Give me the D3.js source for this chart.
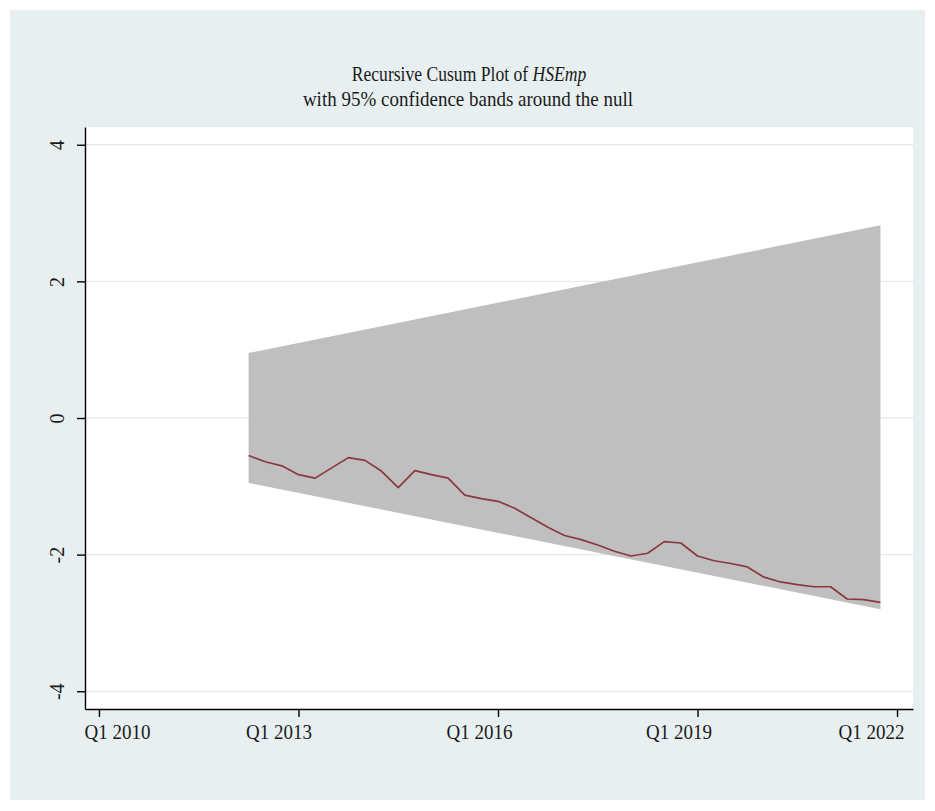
<!DOCTYPE html>
<html>
<head>
<meta charset="utf-8">
<script src="https://cdn.jsdelivr.net/npm/d3@7"></script>
<style>
  html, body { margin: 0; padding: 0; background: #ffffff; }
  svg { display: block; }
  text { font-family: "Liberation Serif", "Times New Roman", serif; fill: #1a1a1a; }
</style>
</head>
<body>
<svg id="chart" width="935" height="811"></svg>
<script>
// Recursive CUSUM of HSEmp, quarterly
const cusumStart = "2012q2";
const cusumValues = [
  -0.55, -0.64, -0.70, -0.83, -0.88, -0.73, -0.58, -0.62, -0.78, -1.02,
  -0.77, -0.83, -0.88, -1.13, -1.18, -1.22, -1.32, -1.46, -1.60, -1.72,
  -1.78, -1.86, -1.95, -2.02, -1.98, -1.81, -1.83, -2.02, -2.09, -2.13,
  -2.18, -2.33, -2.40, -2.44, -2.47, -2.47, -2.65, -2.66, -2.70
];

// 95% confidence band around the null (straight lines between endpoints)
const bandQuarters = ["2012q2", "2021q4"];
const bandUpper = [0.95, 2.82];
const bandLower = [-0.95, -2.80];

// Axis ticks
const xTickQuarters = ["2010q1", "2013q1", "2016q1", "2019q1", "2022q1"];
const xTickLabels = ["Q1 2010", "Q1 2013", "Q1 2016", "Q1 2019", "Q1 2022"];
const yTicks = [-4, -2, 0, 2, 4];

// quarter string -> running quarter index counted from 2010q1
function qIndex(s) {
  const [yr, q] = s.split("q").map(Number);
  return (yr - 2010) * 4 + (q - 1);
}

const svg = d3.select("#chart");

// graph region
svg.append("rect")
  .attr("x", 10).attr("y", 10)
  .attr("width", 915).attr("height", 790)
  .attr("fill", "#e8eff1");

const plot = { left: 85, right: 913, top: 127, bottom: 709 };

// plot region
svg.append("rect")
  .attr("x", plot.left).attr("y", plot.top)
  .attr("width", plot.right - plot.left).attr("height", plot.bottom - plot.top)
  .attr("fill", "#ffffff");

const x = d3.scaleLinear()
  .domain([-0.84, 48.96])
  .range([plot.left, plot.right]);

const y = d3.scaleLinear()
  .domain([-4.26, 4.26])
  .range([plot.bottom, plot.top]);

// horizontal grid lines
svg.append("g")
  .selectAll("line")
  .data(yTicks)
  .join("line")
  .attr("x1", plot.left).attr("x2", plot.right)
  .attr("y1", d => y(d)).attr("y2", d => y(d))
  .attr("stroke", "#e4ecee")
  .attr("stroke-width", 1.3);

// confidence band
const bandData = bandQuarters.map((q, i) => ({ q: qIndex(q), lo: bandLower[i], hi: bandUpper[i] }));
svg.append("path")
  .datum(bandData)
  .attr("fill", "#bfbfbf")
  .attr("d", d3.area()
    .x(d => x(d.q))
    .y0(d => y(d.lo))
    .y1(d => y(d.hi)));

// CUSUM line
const q0 = qIndex(cusumStart);
const lineData = cusumValues.map((v, i) => ({ q: q0 + i, v }));
svg.append("path")
  .datum(lineData)
  .attr("fill", "none")
  .attr("stroke", "#8a3a3c")
  .attr("stroke-width", 1.7)
  .attr("stroke-linejoin", "round")
  .attr("d", d3.line()
    .x(d => x(d.q))
    .y(d => y(d.v)));

// x axis
const xAxis = d3.axisBottom(x)
  .tickValues(xTickQuarters.map(qIndex))
  .tickFormat((d, i) => xTickLabels[i])
  .tickSize(8)
  .tickSizeOuter(0)
  .tickPadding(8);

const gx = svg.append("g")
  .attr("transform", `translate(0,${plot.bottom})`)
  .call(xAxis);
gx.select(".domain").attr("stroke", "#000").attr("stroke-width", 1.4);
gx.selectAll(".tick line").attr("stroke", "#000").attr("stroke-width", 1.4);
// label placement: first label kept inside the left edge, others sit slightly left of their tick
const xLabelShift = [18, -20, -19, -19, -26];
gx.selectAll(".tick text")
  .attr("font-size", 20)
  .attr("font-family", "Liberation Serif, serif")
  .attr("fill", "#1a1a1a")
  .attr("dx", (d, i) => xLabelShift[i])
  .attr("textLength", 66)
  .attr("lengthAdjust", "spacingAndGlyphs");

// y axis
const yAxis = d3.axisLeft(y)
  .tickValues(yTicks)
  .tickFormat(d3.format("d"))
  .tickSize(8)
  .tickSizeOuter(0);

const gy = svg.append("g")
  .attr("transform", `translate(${plot.left},0)`)
  .call(yAxis);
gy.select(".domain").attr("stroke", "#000").attr("stroke-width", 1.4);
gy.selectAll(".tick line").attr("stroke", "#000").attr("stroke-width", 1.4);
gy.selectAll(".tick text")
  .attr("font-size", 20)
  .attr("font-family", "Liberation Serif, serif")
  .attr("fill", "#1a1a1a")
  .attr("text-anchor", "middle")
  .attr("x", null)
  .attr("dy", null)
  .attr("transform", "translate(-28,0) rotate(-90)")
  .attr("dominant-baseline", "central")
  .text(d => d < 0 ? "-" + Math.abs(d) : String(d));

// title: condensed serif, two lines, variable name in italics
const title1 = svg.append("text")
  .attr("transform", "translate(469,81) scale(0.88,1)")
  .attr("text-anchor", "middle")
  .attr("font-size", 20);
title1.append("tspan").text("Recursive Cusum Plot of ");
title1.append("tspan").attr("font-style", "italic").text("HSEmp");

svg.append("text")
  .attr("transform", "translate(468,106) scale(0.95,1)")
  .attr("text-anchor", "middle")
  .attr("font-size", 20)
  .text("with 95% confidence bands around the null");
</script>
</body>
</html>
